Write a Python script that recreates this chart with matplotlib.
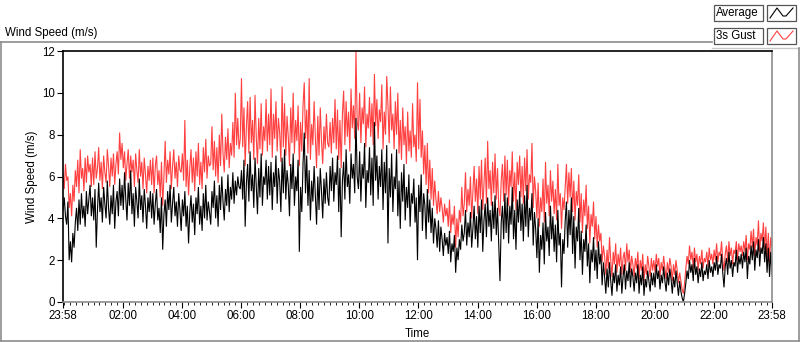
import matplotlib
matplotlib.use("Agg")
import matplotlib.pyplot as plt
from matplotlib.lines import Line2D
from matplotlib.patches import Rectangle
import numpy as np

# ---- data (2.5-minute samples starting 23:58) ----
start_hour = -2 / 60.0
step_hour = 2.5 / 60.0

average = [
    4.4, 5.0, 4.1, 3.7, 4.8, 2.0, 2.9, 1.9, 3.3, 2.6, 3.8, 4.5, 3.4, 4.9, 3.7, 5.2, 4.0, 4.6, 3.6, 5.3, 4.2, 4.9, 5.6, 4.1,
    5.0, 3.9, 5.4, 2.6, 4.4, 5.7, 4.3, 5.0, 3.8, 5.5, 4.7, 4.0, 5.8, 4.5, 3.7, 5.1, 4.2, 5.6, 3.5, 4.8, 5.3, 4.1, 5.9, 4.6,
    5.6, 4.4, 6.2, 4.9, 3.9, 5.7, 4.6, 6.3, 4.2, 5.2, 3.6, 5.5, 4.8, 4.0, 5.9, 4.4, 5.1, 3.8, 5.4, 4.6, 3.5, 5.0, 4.3, 5.3,
    4.0, 5.2, 3.7, 4.7, 5.4, 3.9, 4.5, 3.3, 5.0, 2.5, 4.2, 4.9, 3.6, 5.3, 4.4, 5.6, 3.8, 4.7, 5.5, 4.1, 4.8, 3.6, 5.2, 4.4,
    3.4, 4.9, 4.1, 5.3, 3.6, 4.6, 2.8, 4.3, 5.1, 3.8, 4.7, 3.2, 5.0, 4.2, 5.5, 3.7, 4.6, 3.4, 5.2, 4.0, 5.6, 3.9, 4.8, 4.3,
    3.7, 5.3, 4.5, 5.8, 4.0, 5.1, 3.6, 5.6, 4.4, 6.0, 4.8, 3.9, 5.4, 4.6, 6.1, 4.3, 5.5, 4.9, 6.2, 4.7, 5.8, 5.1, 6.0, 5.5,
    5.4, 6.3, 4.9, 6.8, 3.6, 5.7, 6.6, 4.8, 7.2, 5.3, 6.1, 4.5, 6.9, 5.5, 4.2, 6.4, 5.0, 7.1, 4.6, 6.0, 5.6, 6.8, 4.9, 6.5,
    5.1, 6.7, 4.4, 6.2, 5.5, 7.0, 4.7, 6.4, 5.8, 4.3, 6.9, 5.2, 7.3, 4.9, 6.3, 5.6, 4.1, 6.6, 5.4, 7.1, 4.6, 6.0, 5.3, 6.8,
    2.4, 5.5, 4.3, 6.6, 8.1, 5.2, 7.0, 4.6, 6.3, 3.9, 5.8, 4.8, 6.5, 5.1, 3.7, 6.0, 4.4, 6.4, 5.3, 4.0, 5.9, 4.7, 6.2, 5.0,
    4.6, 6.5, 5.3, 6.9, 4.8, 6.2, 5.6, 7.0, 4.3, 6.4, 3.1, 5.8, 6.7, 4.9, 7.3, 5.5, 6.1, 4.7, 7.1, 5.9, 6.6, 5.2, 8.8, 6.0,
    5.4, 7.2, 4.8, 6.6, 5.9, 7.6, 4.5, 6.3, 5.7, 7.4, 5.1, 6.9, 4.6, 8.6, 5.8, 7.0, 4.9, 6.5, 5.5, 7.3, 4.4, 6.7, 5.2, 7.5,
    2.8, 6.4, 5.0, 7.1, 4.3, 6.0, 5.4, 7.3, 4.1, 5.8, 3.5, 6.2, 4.8, 6.6, 3.9, 5.5, 4.5, 6.1, 3.6, 5.2, 4.7, 5.9, 3.8, 5.0,
    2.0, 5.6, 4.3, 6.1, 3.4, 5.2, 4.6, 3.0, 5.4, 3.8, 4.9, 3.3, 4.5, 2.8, 4.0, 3.5, 2.6, 3.9, 2.4, 3.6, 3.0, 2.2, 3.3, 2.7,
    3.1, 2.3, 3.4, 1.9, 2.8, 2.4, 3.2, 1.4, 2.6, 2.0, 3.0, 2.5, 3.7, 2.9, 3.3, 4.4, 2.7, 3.8, 3.1, 4.3, 2.6, 3.5, 4.6, 3.0,
    4.1, 2.6, 4.6, 3.3, 4.9, 2.4, 3.9, 4.7, 3.1, 5.0, 3.6, 4.4, 2.9, 4.8, 3.5, 5.1, 3.2, 4.5, 2.7, 1.0, 3.8, 4.6, 3.0, 5.2,
    3.3, 5.0, 2.8, 4.6, 3.7, 5.5, 3.0, 4.4, 2.5, 4.9, 3.8, 5.3, 3.4, 4.7, 2.9, 5.1, 3.6, 5.6, 3.1, 4.5, 3.9, 5.2, 2.7, 4.3,
    3.5, 2.1, 4.0, 1.4, 3.2, 2.5, 3.8, 1.8, 4.3, 2.9, 3.6, 2.2, 4.6, 3.0, 4.1, 2.4, 3.7, 1.9, 4.4, 2.7, 3.3, 0.7, 3.0, 2.3,
    3.9, 4.8, 2.6, 4.4, 3.2, 5.0, 2.3, 4.1, 1.6, 3.6, 2.9, 4.5, 2.0, 3.4, 1.3, 3.0, 2.4, 3.7, 1.7, 2.8, 0.9, 2.5, 1.9, 3.1,
    1.5, 2.5, 1.1, 2.9, 1.8, 2.3, 0.8, 1.9, 1.2, 0.4, 1.6, 0.7, 1.9, 1.0, 0.3, 1.4, 0.9, 1.8, 0.5, 1.3, 0.8, 1.7, 0.4, 1.2,
    1.8, 0.6, 1.5, 1.0, 1.9, 0.7, 1.6, 1.2, 0.5, 1.4, 0.9, 1.8, 0.4, 1.3, 0.8, 1.7, 0.3, 1.1, 0.7, 1.5, 1.0, 0.5, 1.4, 0.8,
    1.4, 0.7, 1.8, 1.1, 1.5, 0.6, 1.3, 0.9, 1.7, 1.0, 0.5, 1.4, 0.8, 1.6, 1.1, 0.4, 1.2, 0.7, 1.5, 0.9, 0.3, 1.0, 0.5, 0.2,
    0.0, 0.4, 0.9, 1.5, 1.1, 2.0, 1.4, 1.8, 1.0, 2.1, 1.3, 1.7, 0.9, 1.6, 1.2, 1.9, 1.0, 1.5, 1.3, 1.8, 1.1, 2.0, 1.4, 1.7,
    1.2, 1.9, 1.5, 2.2, 1.3, 1.8, 1.6, 2.3, 1.4, 0.7, 1.7, 2.1, 1.3, 2.4, 1.6, 2.0, 1.2, 1.9, 1.7, 2.5, 1.4, 2.2, 1.8, 2.3,
    1.6, 2.4, 1.9, 2.6, 1.1, 2.2, 1.8, 2.7, 2.0, 2.9, 1.5, 2.5, 2.1, 3.0, 1.7, 2.6, 2.3, 3.1, 1.9, 2.8, 1.4, 2.6, 1.2, 2.4,
    1.3,
]

gust = [
    6.1, 5.4, 6.6, 5.8, 6.0, 4.5, 5.2, 4.1, 5.6, 4.8, 6.3, 5.5, 6.8, 5.2, 7.3, 5.9, 6.4, 5.3, 6.9, 5.7, 7.0, 6.2, 6.6, 5.5,
    6.9, 5.6, 7.2, 5.9, 6.4, 7.4, 5.8, 6.7, 5.4, 7.0, 6.2, 5.7, 7.3, 6.5, 5.5, 6.9, 6.0, 7.1, 5.6, 6.6, 7.2, 6.1, 8.1, 6.8,
    7.6, 6.4, 7.2, 5.8, 6.6, 7.3, 5.9, 7.0, 6.2, 6.8, 5.5, 7.1, 6.3, 5.7, 7.3, 6.0, 6.7, 5.4, 6.9, 6.1, 5.2, 6.5, 5.8, 6.8,
    5.6, 6.9, 5.2, 6.5, 7.0, 5.6, 6.3, 5.0, 6.7, 4.6, 6.0, 7.7, 5.7, 6.8, 6.1, 7.2, 5.4, 6.5, 7.3, 5.9, 6.7, 5.5, 7.0, 6.3,
    6.2, 7.1, 5.8, 8.7, 5.5, 6.8, 5.1, 6.4, 7.3, 5.7, 6.9, 5.3, 7.2, 6.0, 7.6, 5.6, 6.7, 5.4, 7.4, 6.2, 7.8, 5.9, 7.0, 6.5,
    6.6, 8.4, 6.3, 7.7, 6.0, 7.4, 5.7, 8.0, 6.5, 9.0, 7.1, 6.2, 7.9, 6.8, 8.3, 6.4, 7.6, 7.0, 8.6, 6.9, 10.0, 7.5, 8.8, 7.3,
    7.8, 10.7, 7.4, 9.3, 6.5, 8.4, 9.6, 7.1, 9.8, 7.6, 8.7, 6.8, 9.9, 7.9, 6.6, 8.8, 7.3, 9.5, 7.0, 8.4, 7.7, 9.7, 7.2, 9.0,
    7.5, 10.2, 6.9, 9.0, 7.8, 9.6, 7.2, 8.8, 8.1, 6.7, 10.3, 7.4, 9.5, 7.0, 8.9, 7.9, 6.5, 9.3, 7.6, 10.0, 7.1, 8.7, 7.7, 9.4,
    6.5, 8.6, 7.2, 9.4, 10.5, 7.8, 9.2, 7.1, 10.7, 6.8, 8.5, 7.5, 9.6, 7.9, 6.4, 8.9, 7.0, 9.3, 7.7, 6.6, 8.4, 7.3, 9.0, 7.6,
    7.4, 8.6, 7.1, 8.8, 7.6, 9.7, 7.3, 9.2, 6.8, 8.7, 6.4, 9.0, 10.1, 7.5, 9.6, 7.9, 9.1, 7.2, 10.2, 8.3, 9.4, 7.8, 12.0, 8.6,
    8.2, 10.0, 7.6, 9.3, 8.5, 10.3, 7.4, 9.0, 8.3, 9.8, 7.9, 9.5, 7.5, 10.9, 8.4, 9.7, 7.8, 9.2, 8.6, 10.4, 7.3, 9.1, 8.0, 10.8,
    9.4, 7.6, 10.3, 8.2, 9.0, 7.3, 9.6, 8.0, 10.0, 7.1, 8.7, 6.8, 9.3, 7.5, 8.4, 6.6, 9.1, 7.2, 8.2, 6.9, 9.5, 7.4, 8.0, 6.7,
    10.5, 7.3, 9.7, 6.9, 8.2, 6.1, 7.5, 5.6, 7.6, 5.2, 6.8, 4.9, 6.4, 4.6, 5.8, 4.9, 4.2, 5.3, 4.3, 5.0, 4.5, 3.8, 4.7, 4.1,
    4.5, 3.6, 4.9, 3.3, 4.2, 3.7, 4.6, 2.6, 4.0, 3.1, 4.4, 3.8, 5.5, 4.1, 4.7, 6.2, 4.3, 5.4, 4.6, 6.0, 4.0, 5.2, 6.5, 4.8,
    5.9, 4.2, 6.5, 4.9, 6.8, 4.4, 5.6, 6.9, 4.7, 7.7, 5.4, 6.3, 4.6, 6.7, 5.2, 7.1, 4.9, 6.4, 4.5, 4.1, 5.8, 6.6, 4.8, 7.0,
    5.1, 6.8, 4.6, 6.3, 5.5, 7.2, 4.8, 6.2, 4.4, 6.7, 5.6, 7.0, 5.0, 6.5, 4.7, 6.9, 5.3, 7.3, 4.9, 6.1, 5.7, 7.6, 4.5, 6.0,
    5.3, 4.0, 5.7, 3.6, 5.0, 4.3, 5.9, 3.8, 6.7, 4.7, 5.6, 4.1, 6.3, 4.8, 5.8, 4.2, 5.4, 3.9, 6.6, 4.6, 5.2, 3.5, 5.0, 4.4,
    5.5, 6.6, 4.7, 6.2, 5.0, 6.4, 4.3, 5.8, 3.9, 5.3, 4.6, 6.1, 3.8, 5.2, 3.3, 4.9, 4.1, 5.6, 3.5, 4.6, 2.8, 4.2, 3.6, 4.8,
    3.0, 4.1, 2.6, 3.7, 2.9, 3.3, 1.9, 2.7, 2.2, 1.3, 2.5, 1.6, 3.1, 2.0, 1.2, 2.4, 1.8, 2.8, 1.4, 2.3, 1.7, 2.6, 1.3, 2.1,
    2.4, 1.5, 2.8, 1.9, 2.5, 1.4, 2.2, 1.8, 1.2, 2.1, 1.6, 2.4, 1.1, 2.0, 1.5, 2.3, 1.0, 1.8, 1.3, 2.2, 1.7, 1.2, 2.1, 1.5,
    2.0, 1.4, 2.3, 1.7, 2.1, 1.2, 1.9, 1.5, 2.2, 1.6, 1.1, 1.9, 1.4, 2.1, 1.7, 1.0, 1.8, 1.3, 2.0, 1.5, 0.9, 1.4, 1.0, 0.6,
    0.4, 0.9, 1.6, 2.2, 1.8, 2.7, 2.0, 2.4, 1.6, 2.6, 1.9, 2.3, 1.5, 2.2, 1.8, 2.5, 1.6, 2.1, 1.9, 2.4, 1.7, 2.6, 2.0, 2.3,
    1.8, 2.5, 2.0, 2.8, 1.9, 2.4, 2.2, 2.9, 2.0, 1.5, 2.3, 2.7, 1.9, 2.9, 2.2, 2.6, 1.8, 2.5, 2.3, 2.9, 2.0, 2.8, 2.4, 2.7,
    2.2, 2.9, 2.4, 3.2, 2.0, 2.8, 2.5, 3.4, 2.6, 3.5, 2.2, 3.1, 2.7, 3.9, 2.4, 3.3, 2.9, 3.8, 2.5, 3.6, 2.1, 3.3, 1.9, 3.1,
    2.6,
]

x_tick_hours = [-2 / 60.0, 2, 4, 6, 8, 10, 12, 14, 16, 18, 20, 22, 24 - 2 / 60.0]
x_tick_labels = ["23:58", "02:00", "04:00", "06:00", "08:00", "10:00", "12:00",
                 "14:00", "16:00", "18:00", "20:00", "22:00", "23:58"]
y_ticks = [0, 2, 4, 6, 8, 10, 12]
series_names = ["Average", "3s Gust"]
series_colors = ["#000000", "#ff4040"]

# ---- figure ----
W, H = 800, 342
fig = plt.figure(figsize=(W / 100, H / 100), dpi=100)
fig.patch.set_facecolor("white")
FONT = ["Liberation Sans", "DejaVu Sans"]
FS = 8.3

def fx(px):
    return px / W

def fy(py):
    return 1 - py / H

ax = fig.add_axes([fx(63), fy(302), fx(772) - fx(63), fy(51) - fy(302)])
t = start_hour + step_hour * np.arange(len(average))
ax.plot(t, gust, color=series_colors[1], lw=0.8, solid_joinstyle="miter")
ax.plot(t, average, color=series_colors[0], lw=0.8, solid_joinstyle="miter")

ax.set_xlim(x_tick_hours[0], x_tick_hours[-1])
ax.set_ylim(0, 12)
ax.set_xticks(x_tick_hours)
ax.set_xticklabels(x_tick_labels, fontsize=FS, family=FONT)
ax.set_xticks(np.arange(0, 24, 0.2), minor=True)
ax.set_yticks(y_ticks)
ax.set_yticklabels([str(v) for v in y_ticks], fontsize=FS, family=FONT)
ax.tick_params(axis="both", which="major", length=4, width=0.8, color="black", pad=2)
ax.tick_params(axis="x", which="minor", length=2.5, width=0.6, color="black")
for s in ["top", "left"]:
    ax.spines[s].set_color("black")
    ax.spines[s].set_linewidth(1.2)
for s in ["right", "bottom"]:
    ax.spines[s].set_color("#8c8c8c")
    ax.spines[s].set_linewidth(1.2)
ax.set_xlabel("Time", fontsize=FS, family=FONT, labelpad=4)
ax.set_ylabel("Wind Speed (m/s)", fontsize=FS, family=FONT, labelpad=3)

# ---- outer frame ----
gray = "#8c8c8c"
fig.add_artist(Line2D([fx(0.5), fx(712)], [fy(42), fy(42)], color=gray, lw=1.2))
fig.add_artist(Line2D([fx(712), fx(798.5)], [fy(48), fy(48)], color="#c8c8c8", lw=1.0))
fig.add_artist(Line2D([fx(0.8), fx(0.8)], [fy(42), fy(340.5)], color=gray, lw=1.2))
fig.add_artist(Line2D([fx(0.5), fx(798.5)], [fy(340.5), fy(340.5)], color=gray, lw=1.2))
fig.add_artist(Line2D([fx(798.5), fx(798.5)], [fy(48), fy(340.5)], color=gray, lw=1.2))
fig.text(fx(5), fy(33), "Wind Speed (m/s)", fontsize=FS, family=FONT, va="center", ha="left")

# ---- legend ----
entries = [(5, 21), (28, 44)]
for (top, bot), name, col in zip(entries, series_names, series_colors):
    fig.add_artist(Rectangle((fx(714), fy(bot)), fx(763) - fx(714), fy(top) - fy(bot),
                             facecolor="white", edgecolor="#555555", lw=0.9))
    fig.text(fx(716), fy((top + bot) / 2), name, fontsize=FS, family=FONT,
             va="center", ha="left")
    fig.add_artist(Rectangle((fx(767), fy(bot)), fx(796) - fx(767), fy(top) - fy(bot),
                             facecolor="white", edgecolor="#555555", lw=0.9))
    xs = [770, 777, 783, 786, 793]
    ys = [bot - 3, top + 3, bot - 5, bot - 5, top + 3]
    fig.add_artist(Line2D([fx(v) for v in xs], [fy(v) for v in ys], color=col, lw=0.8))

fig.savefig("out.png", dpi=100, facecolor=fig.get_facecolor())
